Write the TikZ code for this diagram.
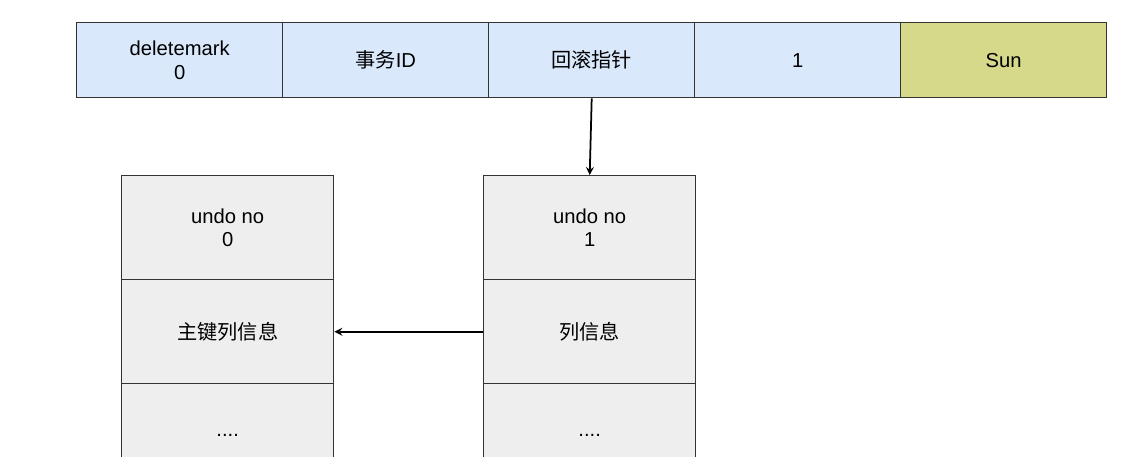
\documentclass[tikz,border=0pt]{standalone}
\usepackage{fontspec}
\setmainfont{Liberation Sans}
\newfontfamily\cjk{Noto Sans CJK SC}
\usetikzlibrary{positioning}
\definecolor{cellblue}{HTML}{DAE8FC}
\definecolor{cellsun}{HTML}{D7D98A}
\definecolor{cellgray}{HTML}{EEEEEE}
\definecolor{edgegray}{HTML}{333333}
\begin{document}
\begin{tikzpicture}[x=0.02cm,y=-0.02cm,>=stealth,
  cell/.style={draw=edgegray,line width=0.8pt,minimum width=206*0.02cm,
    minimum height=75*0.02cm,inner sep=0pt,align=center,
    font=\fontsize{11.5}{13.5}\selectfont,anchor=north west},
  rec/.style={cell,fill=cellblue},
  undo/.style={cell,fill=cellgray,minimum width=212*0.02cm,minimum height=104*0.02cm}]
\useasboundingbox (0,0) rectangle (1131,456);
\clip (0,0) rectangle (1131,456);
% row record
\node[rec] (dm) at (76,22) {deletemark\\0};
\node[rec] (trx) at (282,22) {{\cjk 事务}ID};
\node[rec] (roll) at (488,22) {\cjk 回滚指针};
\node[rec] (one) at (694,22) {1};
\node[rec,fill=cellsun] (name) at (900,22) {Sun};
% undo log 0
\node[undo] (u0) at (121,175) {undo no\\0};
\node[undo] (k0) at (121,279) {\cjk 主键列信息};
\node[undo] (e0) at (121,383) {....};
% undo log 1
\node[undo] (u1) at (483,175) {undo no\\1};
\node[undo] (k1) at (483,279) {\cjk 列信息};
\node[undo] (e1) at (483,383) {....};
%
\draw[->,line width=1pt] (roll.south) -- (u1.north);
\draw[->,line width=1pt] (k1.west) -- (k0.east);
\end{tikzpicture}
\end{document}
